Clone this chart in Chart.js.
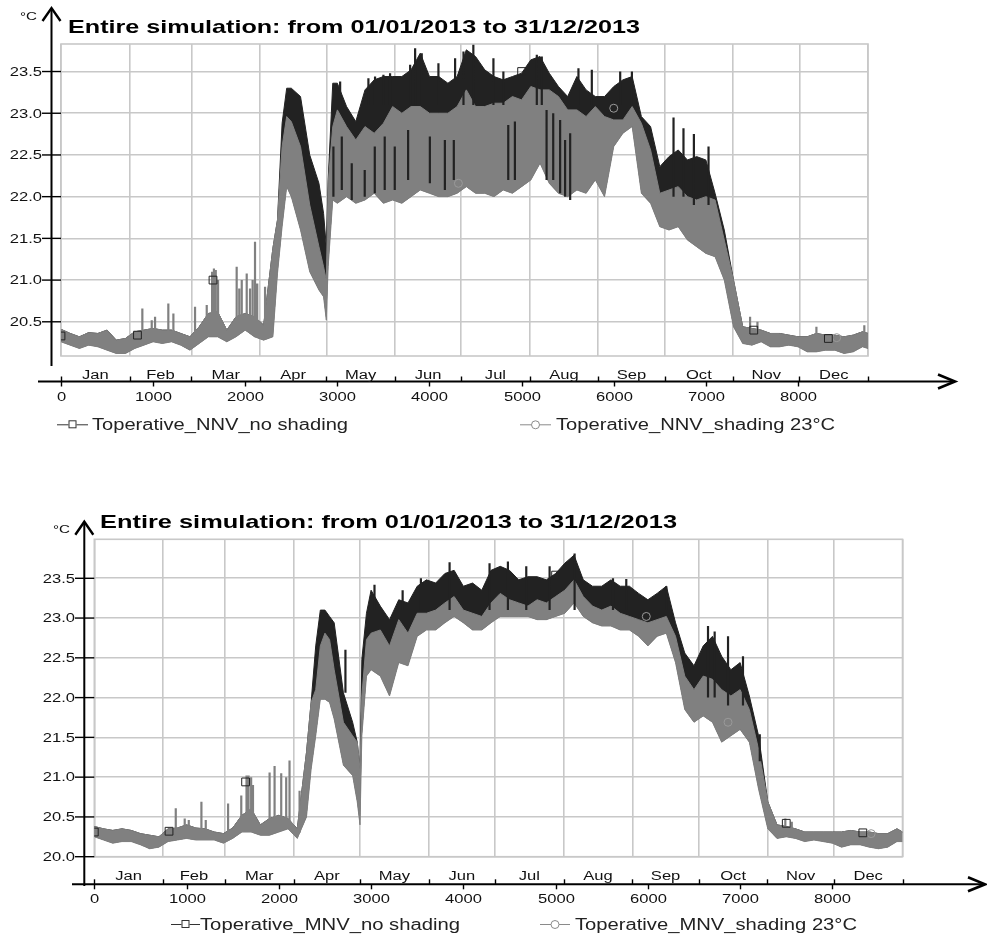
<!DOCTYPE html>
<html>
<head>
<meta charset="utf-8">
<script src="https://cdn.jsdelivr.net/npm/chart.js@4.4.0/dist/chart.umd.min.js"></script>
<style>
html,body{margin:0;padding:0;background:#fff;width:987px;height:938px;overflow:hidden}
.wrap{position:absolute;left:0;width:987px;height:469px}
canvas{display:block}
</style>
</head>
<body>
<div class="wrap" style="top:0"><canvas id="c1" width="987" height="469"></canvas></div>
<div class="wrap" style="top:469px"><canvas id="c2" width="987" height="469"></canvas></div>
<script>
// ---------------- shared labels ----------------
const chartTitle = 'Entire simulation: from 01/01/2013 to 31/12/2013';
const unitLabel = '°C';
const monthNames = ['Jan','Feb','Mar','Apr','May','Jun','Jul','Aug','Sep','Oct','Nov','Dec'];
const monthBounds = [0,744,1416,2160,2880,3624,4344,5088,5832,6552,7296,8016,8760];
const hourTicks = [0,1000,2000,3000,4000,5000,6000,7000,8000];
const tempTicksNNV = [20.5,21.0,21.5,22.0,22.5,23.0,23.5];
const tempTicksMNV = [20.0,20.5,21.0,21.5,22.0,22.5,23.0,23.5];
const legendNNV = ['Toperative_NNV_no shading','Toperative_NNV_shading 23°C'];
const legendMNV = ['Toperative_MNV_no shading','Toperative_MNV_shading 23°C'];

// ---------------- NNV (top) : envelopes ----------------
const hoursNNV = [0,100,200,300,400,500,600,700,800,900,
 1000,1100,1200,1300,1400,1500,1600,1700,1800,1900,
 2000,2100,2200,2300,2350,2400,2450,2500,2600,2700,
 2800,2850,2880,2900,2950,3000,3100,3200,3300,3400,
 3500,3600,3700,3800,3900,4000,4100,4200,4300,4400,
 4500,4600,4700,4800,4900,5000,5100,5200,5300,5400,
 5500,5600,5700,5800,5900,6000,6100,6200,6300,6400,
 6500,6600,6700,6800,6900,7000,7100,7200,7300,7400,
 7500,7600,7700,7800,7900,8000,8100,8200,8300,8400,
 8500,8600,8700,8760];
const nnvNoShadeUpper = [20.41,20.36,20.32,20.37,20.36,20.40,20.28,20.30,20.38,20.40,
 20.42,20.40,20.40,20.36,20.32,20.44,20.60,20.62,20.40,20.56,
 20.60,20.56,20.46,21.38,21.72,22.88,23.30,23.30,23.20,22.50,
 22.16,21.80,21.40,22.20,23.36,23.36,23.08,22.90,23.28,23.40,
 23.44,23.44,23.44,23.52,23.72,23.44,23.44,23.36,23.44,23.76,
 23.68,23.52,23.44,23.40,23.44,23.48,23.64,23.68,23.48,23.32,
 23.20,23.44,23.28,23.20,23.20,23.32,23.40,23.44,22.96,22.84,
 22.36,22.48,22.56,22.44,22.48,22.44,22.04,21.60,21.00,20.44,
 20.42,20.40,20.36,20.36,20.34,20.32,20.32,20.36,20.34,20.34,
 20.32,20.34,20.38,20.36];
const nnvShadeUpper = [20.41,20.36,20.32,20.37,20.36,20.40,20.28,20.30,20.38,20.40,
 20.42,20.40,20.40,20.36,20.32,20.44,20.60,20.62,20.40,20.56,
 20.60,20.56,20.46,21.38,21.72,22.60,22.96,22.90,22.60,21.90,
 21.40,21.16,21.00,22.16,22.84,23.04,22.84,22.68,22.84,22.76,
 22.88,23.08,23.00,23.08,23.08,23.00,23.00,23.00,23.08,23.28,
 23.08,23.08,23.12,23.12,23.20,23.16,23.32,23.28,23.28,23.20,
 23.04,23.04,22.96,23.08,22.96,22.92,22.92,23.08,22.88,22.56,
 22.04,22.08,22.12,22.00,21.96,22.00,21.96,21.48,21.00,20.44,
 20.42,20.40,20.36,20.36,20.34,20.32,20.32,20.36,20.34,20.34,
 20.32,20.34,20.38,20.36];
const nnvShadeLower = [20.26,20.22,20.18,20.22,20.20,20.16,20.12,20.12,20.18,20.22,
 20.26,20.24,20.26,20.22,20.16,20.24,20.32,20.32,20.26,20.32,
 20.40,20.32,20.28,20.32,21.08,21.64,22.12,22.00,21.60,21.10,
 20.88,20.80,20.52,21.16,21.96,21.92,22.00,21.92,21.96,22.04,
 21.92,21.96,21.92,22.00,22.08,22.04,22.00,22.00,22.04,22.12,
 22.04,22.04,22.00,22.08,22.04,22.12,22.20,22.40,22.16,22.04,
 22.00,22.08,22.04,22.20,22.00,22.60,22.76,22.84,22.04,21.92,
 21.64,21.60,21.64,21.48,21.40,21.32,21.28,21.00,20.44,20.24,
 20.22,20.26,20.20,20.20,20.22,20.20,20.14,20.14,20.16,20.16,
 20.12,20.14,20.20,20.18];
// dark excursions of the no-shading series (inner streaks and peaks)
const nnvStreakHours = [2957,3048,3156,3297,3406,3514,3623,3768,4004,4167,4264,4855,4927,5271,5343,5418,5472,5527,6649,6757,6870,7029,
 3030,3337,3409,3500,3572,3790,3844,3916,4097,4278,4369,4476,4694,4802,5165,5219,5617,5762,6070,6197];
const nnvStreakLow   = [22.00,22.08,21.96,22.00,22.04,22.08,22.08,22.20,22.16,22.08,22.20,22.20,22.20,22.20,22.20,22.04,22.00,21.96,22.00,22.00,21.90,21.90,
 23.10,23.10,23.10,23.10,23.10,23.10,23.10,23.10,23.10,23.10,23.10,23.10,23.10,23.10,23.10,23.10,23.10,23.10,23.10,23.10];
const nnvStreakHigh  = [22.60,22.72,22.40,22.32,22.60,22.72,22.60,22.80,22.72,22.68,22.68,22.86,22.90,23.04,23.00,22.92,22.68,22.76,22.95,22.82,22.75,22.60,
 23.38,23.42,23.44,23.46,23.48,23.58,23.78,23.72,23.60,23.66,23.74,23.82,23.66,23.50,23.70,23.68,23.54,23.52,23.50,23.50];
// grey spikes of the shaded series
const nnvSpikeHours = [883,985,1021,1165,1220,1455,1582,1640,1660,1680,1705,1907,1935,1962,2016,2052,2080,2106,2130,2215,7480,7560,8200,8720];
const nnvSpikeLow   = [20.30,20.30,20.30,20.30,20.30,20.30,20.40,20.40,20.40,20.40,20.40,20.40,20.40,20.40,20.40,20.40,20.40,20.40,20.40,20.35,20.30,20.30,20.25,20.25];
const nnvSpikeHigh  = [20.66,20.52,20.56,20.72,20.60,20.68,20.70,21.10,21.14,21.12,21.00,21.16,20.90,21.00,21.08,20.90,21.00,21.46,20.96,20.92,20.56,20.50,20.44,20.46];
const nnvSquareHours = [0,830,1650,5000,7520,8330];
const nnvSquareVals  = [20.33,20.34,21.00,23.50,20.40,20.30];
const nnvCircleHours = [4314,6000,8420];
const nnvCircleVals  = [22.16,23.06,20.31];

// ---------------- MNV (bottom) ----------------
const hoursMNV = [0,100,200,300,400,500,600,700,800,900,
 1000,1100,1200,1300,1400,1500,1600,1700,1800,1900,
 2000,2100,2200,2300,2350,2400,2450,2500,2550,
 2600,2700,2800,2850,2880,2900,2950,
 3000,3100,3200,3300,3400,3500,3600,3700,3800,3900,
 4000,4100,4200,4300,4400,4500,4600,4700,4800,4900,
 5000,5100,5200,5300,5400,5500,5600,5700,5800,5900,
 6000,6100,6200,6300,6400,6500,6600,6700,6800,6900,
 7000,7100,7200,7300,7400,7500,7600,7700,7800,7900,
 8000,8100,8200,8300,8400,8500,8600,8700,8760];
const mnvNoShadeUpper = [20.38,20.35,20.33,20.35,20.33,20.29,20.27,20.25,20.35,20.36,
 20.40,20.36,20.35,20.31,20.29,20.36,20.52,20.60,20.40,20.48,
 20.52,20.48,20.35,21.31,21.94,22.65,23.10,23.10,23.02,
 22.94,22.06,21.69,21.44,21.10,22.48,23.06,
 23.35,23.15,22.98,23.23,23.19,23.40,23.48,23.44,23.56,23.60,
 23.40,23.44,23.35,23.60,23.65,23.60,23.48,23.52,23.52,23.48,
 23.56,23.69,23.79,23.48,23.40,23.40,23.48,23.40,23.40,23.31,
 23.23,23.31,23.40,22.94,22.56,22.40,22.65,22.77,22.52,22.35,
 22.44,22.02,21.52,20.69,20.40,20.38,20.35,20.31,20.31,20.31,
 20.31,20.31,20.33,20.31,20.31,20.29,20.29,20.35,20.31];
const mnvShadeUpper = [20.38,20.35,20.33,20.35,20.33,20.29,20.27,20.25,20.35,20.36,
 20.40,20.36,20.35,20.31,20.29,20.36,20.52,20.60,20.40,20.48,
 20.52,20.48,20.35,21.31,21.94,22.10,22.65,22.81,22.73,
 22.35,21.69,21.52,21.44,21.10,22.02,22.73,
 22.81,22.85,22.65,22.98,22.81,23.06,23.06,23.10,23.19,23.27,
 23.10,23.06,23.02,23.19,23.31,23.23,23.19,23.15,23.23,23.19,
 23.27,23.35,23.48,23.27,23.15,23.10,23.15,23.06,23.02,22.98,
 22.94,22.98,23.02,22.77,22.27,22.10,22.27,22.23,22.10,22.02,
 22.10,21.85,21.35,20.69,20.40,20.38,20.35,20.31,20.31,20.31,
 20.31,20.31,20.33,20.31,20.31,20.29,20.29,20.35,20.31];
const mnvShadeLower = [20.25,20.21,20.17,20.19,20.19,20.15,20.10,20.12,20.19,20.21,
 20.23,20.21,20.21,20.21,20.17,20.23,20.31,20.31,20.27,20.27,
 20.31,20.35,20.23,20.50,21.10,21.52,21.98,21.98,21.94,
 21.73,21.15,21.02,20.69,20.40,21.52,22.27,
 22.35,22.27,22.02,22.44,22.40,22.77,22.85,22.85,22.94,23.02,
 22.94,22.85,22.85,22.94,23.02,23.02,23.02,23.02,22.98,22.98,
 23.02,23.06,23.19,23.02,22.94,22.90,22.90,22.85,22.85,22.77,
 22.65,22.77,22.81,22.44,21.85,21.69,21.77,21.69,21.44,21.52,
 21.60,21.44,20.85,20.35,20.23,20.25,20.23,20.19,20.21,20.19,
 20.17,20.12,20.15,20.15,20.12,20.10,20.12,20.19,20.19];
const mnvStreakHours = [2722,6652,6724,6869,7031,7213,
 3037,3342,3540,3851,4284,4483,4682,4935,5206,5622,5766,6200];
const mnvStreakLow   = [22.06,22.00,22.00,21.90,21.90,21.20,
 23.10,23.10,23.10,23.10,23.10,23.10,23.10,23.10,23.10,23.10,23.10,23.10];
const mnvStreakHigh  = [22.60,22.90,22.83,22.77,22.52,21.54,
 23.42,23.35,23.50,23.70,23.69,23.71,23.65,23.65,23.81,23.50,23.49,23.40];
const mnvSpikeHours = [883,980,1024,1161,1208,1450,1593,1650,1672,1700,1720,1900,1954,2026,2080,2116,2225,7490,7560];
const mnvSpikeLow   = [20.28,20.28,20.28,20.28,20.28,20.28,20.35,20.40,20.40,20.40,20.40,20.35,20.35,20.35,20.35,20.35,20.30,20.28,20.28];
const mnvSpikeHigh  = [20.61,20.48,20.46,20.69,20.46,20.67,20.77,21.02,21.02,21.00,20.90,21.06,21.14,21.05,21.00,21.21,20.83,20.48,20.44];
const mnvSquareHours = [0,810,1640,5000,7500,8330];
const mnvSquareVals  = [20.31,20.32,20.94,23.54,20.42,20.30];
const mnvCircleHours = [5983,6869,8420];
const mnvCircleVals  = [23.02,21.69,20.29];

// ---------------- styling ----------------
const DARK = '#222222';
const GREY = '#808080';
const GRID = '#c8c8c8';
const TEXT = '#111111';
const FONT = '"Liberation Sans", Arial, sans-serif';
const AXIS_SX = 1.38;

function drawText(ctx, txt, x, baseY, size, opts) {
  opts = opts || {};
  ctx.save();
  ctx.font = (opts.bold ? 'bold ' : '') + size + 'px ' + FONT;
  ctx.fillStyle = opts.color || TEXT;
  ctx.textBaseline = 'alphabetic';
  ctx.textAlign = 'left';
  const w = ctx.measureText(txt).width;
  const sx = opts.width ? opts.width / w : (opts.sx || 1);
  const dw = w * sx;
  const left = opts.align === 'right' ? x - dw : (opts.align === 'center' ? x - dw / 2 : x);
  ctx.translate(left, baseY);
  ctx.scale(sx, 1);
  ctx.fillText(txt, 0, 0);
  ctx.restore();
}

function line(ctx, x1, y1, x2, y2) {
  ctx.beginPath(); ctx.moveTo(x1, y1); ctx.lineTo(x2, y2); ctx.stroke();
}

function makeChart(id, c) {
  const g = c.geo;
  const W = 987, H = 469;
  const pts = (hs, vs) => hs.map((h, i) => ({x: h, y: vs[i]}));
  const segs = (hs, lo, hi) => {
    const out = [];
    hs.forEach((h, i) => { out.push({x: h, y: lo[i]}, {x: h, y: hi[i]}, {x: h, y: null}); });
    return out;
  };

  const plugin = {
    id: 'deco_' + id,
    beforeDatasetsDraw(chart) {
      const a = chart.chartArea, ctx = chart.ctx;
      ctx.save();
      ctx.strokeStyle = GRID; ctx.lineWidth = 1.6;
      ctx.strokeRect(a.left, a.top, a.right - a.left, a.bottom - a.top);
      ctx.restore();
    },
    afterDraw(chart) {
      const ctx = chart.ctx, a = chart.chartArea;
      const xs = chart.scales.x, ys = chart.scales.y;
      ctx.save();
      ctx.strokeStyle = '#000'; ctx.lineCap = 'butt';
      ctx.lineWidth = 2;
      line(ctx, g.yAxisX, g.yAxisBottom, g.yAxisX, g.yArrowTip + 1);
      ctx.lineWidth = 2.4;
      ctx.beginPath();
      ctx.moveTo(g.yAxisX - 9, g.yArrowTip + 13);
      ctx.lineTo(g.yAxisX, g.yArrowTip);
      ctx.lineTo(g.yAxisX + 9, g.yArrowTip + 13);
      ctx.stroke();
      ctx.lineWidth = 2;
      line(ctx, g.xAxisLeft, g.xAxisY, g.xArrowTip - 1, g.xAxisY);
      ctx.lineWidth = 2.6;
      ctx.beginPath();
      ctx.moveTo(g.xArrowTip - 17, g.xAxisY - 7);
      ctx.lineTo(g.xArrowTip, g.xAxisY);
      ctx.lineTo(g.xArrowTip - 17, g.xAxisY + 7);
      ctx.stroke();
      ctx.lineWidth = 1.4;
      c.yTicks.forEach(v => {
        const py = ys.getPixelForValue(v);
        line(ctx, g.tickLabelRight, py, a.left, py);
        drawText(ctx, v.toFixed(1), g.tickLabelRight, py + 4.3, 12, {align: 'right', sx: AXIS_SX});
      });
      monthBounds.forEach(h => {
        const px = Math.round(xs.getPixelForValue(h)) + 0.5;
        line(ctx, px, g.xAxisY - 5, px, g.xAxisY);
      });
      hourTicks.forEach(h => {
        const px = Math.round(xs.getPixelForValue(h)) + 0.5;
        line(ctx, px, g.xAxisY, px, g.xAxisY + 5);
        drawText(ctx, String(h), px, g.numBase, 12, {align: 'center', sx: AXIS_SX});
      });
      monthNames.forEach((m, i) => {
        const mid = (xs.getPixelForValue(monthBounds[i]) + xs.getPixelForValue(monthBounds[i + 1])) / 2;
        drawText(ctx, m, mid, g.monthBase, 12, {align: 'center', sx: AXIS_SX});
      });
      drawText(ctx, chartTitle, g.titleX, g.titleBase, 18.5, {bold: true, width: g.titleW, color: '#000'});
      drawText(ctx, unitLabel, g.unitX, g.unitBase, 10.5, {width: g.unitW});
      const L = g.legend;
      ctx.strokeStyle = '#333'; ctx.lineWidth = 1;
      line(ctx, L[0].x0, L.cy + 0.5, L[0].x1, L.cy + 0.5);
      const s1 = (L[0].x0 + L[0].x1) / 2;
      ctx.fillStyle = '#fff';
      ctx.fillRect(s1 - 4, L.cy - 4, 8, 8);
      ctx.strokeRect(s1 - 3.5, L.cy - 3.5, 7, 7);
      drawText(ctx, c.legend[0], L[0].tx, L.base, 16, {width: L[0].tw, color: '#222'});
      ctx.strokeStyle = '#8a8a8a';
      line(ctx, L[1].x0, L.cy + 0.5, L[1].x1, L.cy + 0.5);
      const s2 = (L[1].x0 + L[1].x1) / 2;
      ctx.beginPath(); ctx.arc(s2, L.cy + 0.5, 4, 0, Math.PI * 2);
      ctx.fillStyle = '#fff'; ctx.fill(); ctx.stroke();
      drawText(ctx, c.legend[1], L[1].tx, L.base, 16, {width: L[1].tw, color: '#222'});
      ctx.restore();
    }
  };

  return new Chart(document.getElementById(id), {
    type: 'line',
    data: {
      datasets: [
        { data: pts(c.sqH, c.sqV), showLine: false, pointStyle: 'rect', pointRadius: 5.5,
          pointBorderColor: DARK, pointBackgroundColor: 'rgba(0,0,0,0)', pointBorderWidth: 1 },
        { data: pts(c.ciH, c.ciV), showLine: false, pointStyle: 'circle', pointRadius: 4,
          pointBorderColor: '#9a9a9a', pointBackgroundColor: 'rgba(0,0,0,0)', pointBorderWidth: 1 },
        { data: segs(c.streakHours, c.streakLow, c.streakHigh), borderColor: DARK, borderWidth: 2.2,
          pointRadius: 0, spanGaps: false, fill: false },
        { data: segs(c.spikeHours, c.spikeLow, c.spikeHigh), borderColor: GREY, borderWidth: 2.2,
          pointRadius: 0, spanGaps: false, fill: false },
        { data: pts(c.hours, c.shadeUp), borderColor: GREY, backgroundColor: GREY, borderWidth: 1,
          pointRadius: 0, fill: '+1', tension: 0 },
        { data: pts(c.hours, c.shadeLow), borderColor: GREY, borderWidth: 1, pointRadius: 0, fill: false, tension: 0 },
        { data: pts(c.hours, c.noShadeUp), borderColor: DARK, backgroundColor: DARK, borderWidth: 1,
          pointRadius: 0, fill: 5, tension: 0 }
      ]
    },
    options: {
      responsive: false,
      devicePixelRatio: 1,
      animation: false,
      events: [],
      layout: { padding: { left: g.area.l, top: g.area.t, right: W - g.area.r, bottom: H - g.area.b } },
      plugins: { legend: { display: false }, tooltip: { enabled: false }, title: { display: false } },
      scales: {
        x: {
          type: 'linear', min: 0, max: 8760,
          afterBuildTicks: s => { s.ticks = monthBounds.map(v => ({value: v})); },
          afterFit: s => { s.height = 0; },
          ticks: { display: false },
          grid: { color: GRID, lineWidth: 1.6, drawTicks: false },
          border: { display: false }
        },
        y: {
          type: 'linear', min: c.yMin, max: c.yMax,
          afterBuildTicks: s => { s.ticks = c.yTicks.map(v => ({value: v})); },
          afterFit: s => { s.width = 0; },
          ticks: { display: false },
          grid: { color: GRID, lineWidth: 1.6, drawTicks: false },
          border: { display: false }
        }
      }
    },
    plugins: [plugin]
  });
}

makeChart('c1', {
  hours: hoursNNV, noShadeUp: nnvNoShadeUpper, shadeUp: nnvShadeUpper, shadeLow: nnvShadeLower,
  streakHours: nnvStreakHours, streakLow: nnvStreakLow, streakHigh: nnvStreakHigh,
  spikeHours: nnvSpikeHours, spikeLow: nnvSpikeLow, spikeHigh: nnvSpikeHigh,
  sqH: nnvSquareHours, sqV: nnvSquareVals, ciH: nnvCircleHours, ciV: nnvCircleVals,
  yMin: 20.09, yMax: 23.83, yTicks: tempTicksNNV, legend: legendNNV,
  geo: {
    area: {l: 61, t: 44, r: 868, b: 356},
    yAxisX: 51.5, yArrowTip: 8, yAxisBottom: 366,
    xAxisY: 381.5, xAxisLeft: 38, xArrowTip: 955,
    tickLabelRight: 42, monthBase: 378.6, numBase: 401,
    titleX: 68, titleBase: 33.3, titleW: 572,
    unitX: 20, unitBase: 19.5, unitW: 17,
    legend: Object.assign([{x0: 57, x1: 88, tx: 92, tw: 256}, {x0: 520, x1: 551, tx: 556, tw: 279}], {cy: 424.3, base: 430})
  }
});

makeChart('c2', {
  hours: hoursMNV, noShadeUp: mnvNoShadeUpper, shadeUp: mnvShadeUpper, shadeLow: mnvShadeLower,
  streakHours: mnvStreakHours, streakLow: mnvStreakLow, streakHigh: mnvStreakHigh,
  spikeHours: mnvSpikeHours, spikeLow: mnvSpikeLow, spikeHigh: mnvSpikeHigh,
  sqH: mnvSquareHours, sqV: mnvSquareVals, ciH: mnvCircleHours, ciV: mnvCircleVals,
  yMin: 20.0, yMax: 23.99, yTicks: tempTicksMNV, legend: legendMNV,
  geo: {
    area: {l: 94.3, t: 70.3, r: 902.5, b: 387.7},
    yAxisX: 84.3, yArrowTip: 52.7, yAxisBottom: 417,
    xAxisY: 415.3, xAxisLeft: 72, xArrowTip: 985,
    tickLabelRight: 75, monthBase: 411, numBase: 433.6,
    titleX: 100, titleBase: 59, titleW: 577,
    unitX: 53, unitBase: 64, unitW: 17,
    legend: Object.assign([{x0: 171, x1: 200, tx: 200, tw: 260}, {x0: 540, x1: 570, tx: 575, tw: 282}], {cy: 455, base: 460.7})
  }
});
</script>
</body>
</html>
